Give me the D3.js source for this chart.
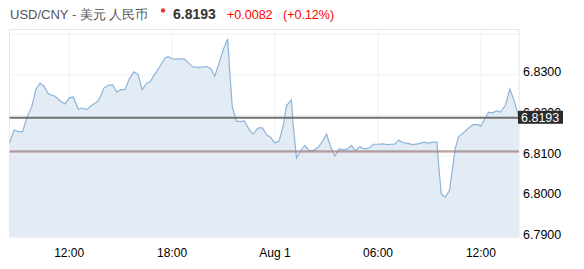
<!DOCTYPE html>
<html>
<head>
<meta charset="utf-8">
<script src="https://cdn.jsdelivr.net/npm/d3@7"></script>
<style>
  body { margin: 0; background: #fff; }
  svg { display: block; font-family: "Liberation Sans", Arial, sans-serif; }
</style>
</head>
<body>
<div id="chart"></div>
<script>
// quote header
var pairName = "USD/CNY - 美元 人民币";
var lastPrice = 6.8193;
var change = "+0.0082";
var changePct = "(+0.12%)";
var prevClose = 6.8111;

// intraday 15-min rates, Jul 31 -> Aug 1
var times = [
  "07-31 08:33", "07-31 08:49", "07-31 09:04", "07-31 09:19", "07-31 09:33", "07-31 09:51",
  "07-31 10:06", "07-31 10:20", "07-31 10:34", "07-31 10:49", "07-31 11:12", "07-31 11:30",
  "07-31 11:47", "07-31 12:02", "07-31 12:16", "07-31 12:34", "07-31 12:49", "07-31 13:03",
  "07-31 13:20", "07-31 13:41", "07-31 13:49", "07-31 14:03", "07-31 14:18", "07-31 14:34",
  "07-31 14:48", "07-31 15:02", "07-31 15:17", "07-31 15:32", "07-31 15:48", "07-31 16:03",
  "07-31 16:17", "07-31 16:33", "07-31 16:44", "07-31 17:02", "07-31 17:19", "07-31 17:37",
  "07-31 17:48", "07-31 18:06", "07-31 18:23", "07-31 18:44", "07-31 18:58", "07-31 19:15",
  "07-31 19:39", "07-31 20:02", "07-31 20:17", "07-31 20:31", "07-31 20:46", "07-31 21:02",
  "07-31 21:16", "07-31 21:24", "07-31 21:32", "07-31 21:47", "07-31 22:05", "07-31 22:14",
  "07-31 22:28", "07-31 22:39", "07-31 22:45", "07-31 23:03", "07-31 23:18", "07-31 23:32",
  "07-31 23:46", "08-01 00:01", "08-01 00:16", "08-01 00:30", "08-01 00:42", "08-01 00:59",
  "08-01 01:05", "08-01 01:17", "08-01 01:31", "08-01 01:46", "08-01 02:01", "08-01 02:17",
  "08-01 02:32", "08-01 02:48", "08-01 03:02", "08-01 03:16", "08-01 03:31", "08-01 03:46",
  "08-01 04:02", "08-01 04:17", "08-01 04:29", "08-01 04:43", "08-01 04:58", "08-01 05:15",
  "08-01 05:33", "08-01 05:47", "08-01 06:02", "08-01 06:19", "08-01 06:35", "08-01 06:49",
  "08-01 07:00", "08-01 07:14", "08-01 07:29", "08-01 07:47", "08-01 08:01", "08-01 08:22",
  "08-01 08:43", "08-01 08:57", "08-01 09:14", "08-01 09:28", "08-01 09:34", "08-01 09:43",
  "08-01 09:57", "08-01 10:12", "08-01 10:24", "08-01 10:32", "08-01 10:44", "08-01 10:59",
  "08-01 11:16", "08-01 11:34", "08-01 11:51", "08-01 12:01", "08-01 12:15", "08-01 12:29",
  "08-01 12:42", "08-01 12:56", "08-01 13:11", "08-01 13:28", "08-01 13:43", "08-01 13:57",
  "08-01 14:15"
];
var rates = [
  6.8131, 6.8163, 6.8159, 6.8159, 6.8192, 6.8221,
  6.8264, 6.8278, 6.8270, 6.8252, 6.8246, 6.8235,
  6.8227, 6.8242, 6.8244, 6.8214, 6.8217, 6.8213,
  6.8223, 6.8233, 6.8242, 6.8266, 6.8273, 6.8274,
  6.8256, 6.8262, 6.8262, 6.8288, 6.8306, 6.8299,
  6.8262, 6.8278, 6.8281, 6.8301, 6.8319, 6.8340,
  6.8343, 6.8337, 6.8338, 6.8338, 6.8328, 6.8318,
  6.8317, 6.8319, 6.8314, 6.8295, 6.8328, 6.8363,
  6.8387, 6.8299, 6.8221, 6.8184, 6.8184, 6.8186,
  6.8168, 6.8157, 6.8153, 6.8168, 6.8168, 6.8151,
  6.8145, 6.8131, 6.8136, 6.8172, 6.8223, 6.8237,
  6.8176, 6.8094, 6.8112, 6.8125, 6.8112, 6.8113,
  6.8120, 6.8135, 6.8153, 6.8122, 6.8099, 6.8117,
  6.8114, 6.8117, 6.8125, 6.8112, 6.8122, 6.8116,
  6.8120, 6.8128, 6.8128, 6.8129, 6.8127, 6.8128,
  6.8128, 6.8138, 6.8132, 6.8130, 6.8127, 6.8129,
  6.8133, 6.8131, 6.8133, 6.8133, 6.8077, 6.8006,
  6.7998, 6.8014, 6.8077, 6.8118, 6.8147, 6.8155,
  6.8166, 6.8176, 6.8176, 6.8172, 6.8190, 6.8207,
  6.8205, 6.8210, 6.8207, 6.8225, 6.8264, 6.8237,
  6.8193
];

var yTicks = [6.79, 6.80, 6.81, 6.82, 6.83];
var yGrid = [6.79, 6.80, 6.81, 6.82, 6.83, 6.84];
var xTicks = ["07-31 12:00", "07-31 18:00", "08-01 00:00", "08-01 06:00", "08-01 12:00"];

var parseTime = d3.timeParse("%Y-%m-%d %H:%M");
function toDate(s) { return parseTime("2018-" + s); }

var data = times.map(function (t, i) { return { date: toDate(t), rate: rates[i] }; });

var W = 584, H = 269;
var margin = { top: 29.5, right: 65, bottom: 32, left: 9.5 };
var width = W - margin.left - margin.right;
var height = H - margin.top - margin.bottom;

var svg = d3.select('#chart').append('svg')
  .attr('width', W)
  .attr('height', H);

// header
svg.append('text').attr('x', 10).attr('y', 18.5)
  .attr('fill', '#555').style('font-size', '13px').text(pairName);

svg.append('circle').attr('cx', 163).attr('cy', 10.5).attr('r', 2.2).attr('fill', '#e53935');

svg.append('text').attr('x', 173).attr('y', 18.5)
  .style('font-size', '14px').style('font-weight', 'bold').attr('fill', '#333')
  .text(lastPrice.toFixed(4));
svg.append('text').attr('x', 227).attr('y', 18.5)
  .style('font-size', '12.5px').attr('fill', '#f00').text(change);
svg.append('text').attr('x', 283).attr('y', 18.5)
  .style('font-size', '12.5px').attr('fill', '#f00').text(changePct);

var g = svg.append('g')
  .attr('transform', 'translate(' + margin.left + ',' + margin.top + ')');

var x = d3.scaleTime()
  .domain(d3.extent(data, function (d) { return d.date; }))
  .range([0, width]);
var y = d3.scaleLinear()
  .domain([6.79, 6.841])
  .range([height, 0]);

// plot frame
g.append('rect')
  .attr('width', width).attr('height', height)
  .attr('fill', '#fff').attr('stroke', '#e6e6e6');

// grid
g.append('g')
  .attr('class', 'grid')
  .call(d3.axisLeft(y).tickValues(yGrid).tickSize(-width).tickFormat(''))
  .call(function (s) { s.select('.domain').remove(); })
  .selectAll('line').attr('stroke', '#f1f1f1');
g.append('g')
  .attr('class', 'grid')
  .attr('transform', 'translate(0,' + height + ')')
  .call(d3.axisBottom(x).tickValues(xTicks.map(toDate)).tickSize(-height).tickFormat(''))
  .call(function (s) { s.select('.domain').remove(); })
  .selectAll('line').attr('stroke', '#eef1f4');

var area = d3.area()
  .x(function (d) { return x(d.date); })
  .y0(height)
  .y1(function (d) { return y(d.rate); });
var line = d3.line()
  .x(function (d) { return x(d.date); })
  .y(function (d) { return y(d.rate); });

g.append('path').datum(data)
  .attr('d', area)
  .attr('fill', '#e3ebf4');

g.append('path').datum(data)
  .attr('d', line)
  .attr('fill', 'none')
  .attr('stroke', '#8db4db')
  .attr('stroke-width', 1.2);

// previous close line
var pcY = Math.round(y(prevClose));
g.append('line')
  .attr('x1', 0).attr('x2', width)
  .attr('y1', pcY - 0.5).attr('y2', pcY - 0.5)
  .attr('stroke', '#858585').attr('stroke-width', 1);
g.append('line')
  .attr('x1', 0).attr('x2', width)
  .attr('y1', pcY + 0.5).attr('y2', pcY + 0.5)
  .attr('stroke', '#b86a6a').attr('stroke-width', 0.8);

// last price line
g.append('line')
  .attr('x1', 0).attr('x2', width)
  .attr('y1', y(lastPrice)).attr('y2', y(lastPrice))
  .attr('stroke', '#6f6f6f').attr('stroke-width', 2);

// y axis on the right
var yAxis = g.append('g')
  .attr('transform', 'translate(' + width + ',0)')
  .call(d3.axisRight(y).tickValues(yTicks).tickSize(0).tickPadding(4).tickFormat(d3.format('.4f')));
yAxis.select('.domain').remove();
yAxis.selectAll('text')
  .style('font-size', '12.5px')
  .style('font-family', '"Liberation Sans", Arial, sans-serif')
  .attr('fill', '#000')
  .attr('dy', '0.12em');

// x axis
var xAxis = g.append('g')
  .attr('transform', 'translate(0,' + height + ')')
  .call(d3.axisBottom(x).tickValues(xTicks.map(toDate)).tickSize(0).tickPadding(11)
    .tickFormat(function (d) {
      return d.getHours() === 0 ? d3.timeFormat('%b %-d')(d) : d3.timeFormat('%H:%M')(d);
    }));
xAxis.select('.domain').remove();
xAxis.selectAll('text')
  .style('font-size', '12px')
  .style('font-family', '"Liberation Sans", Arial, sans-serif')
  .attr('fill', '#000');

// last price tag, drawn over the 6.8200 label like the original
var tagY = y(lastPrice);
g.append('rect')
  .attr('x', width - 1).attr('y', tagY - 7)
  .attr('width', 45).attr('height', 13)
  .attr('fill', '#2b2b2b');
g.append('text')
  .attr('x', width + 2).attr('y', tagY + 4)
  .style('font-size', '12.5px')
  .attr('fill', '#fff')
  .text(lastPrice.toFixed(4));
</script>
</body>
</html>
